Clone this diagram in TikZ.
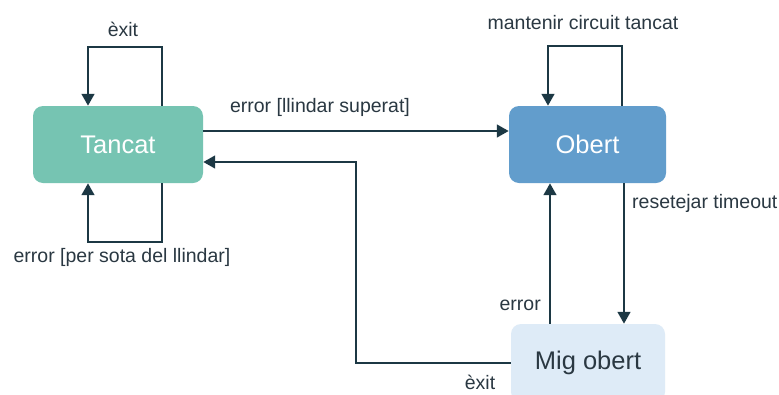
\documentclass[tikz,border=0pt]{standalone}
\usepackage{fontspec}
\setmainfont{Liberation Sans}
\usetikzlibrary{arrows.meta,calc}
\definecolor{lineC}{RGB}{28,56,68}
\definecolor{txtC}{RGB}{42,56,66}
\definecolor{tancatC}{RGB}{118,196,178}
\definecolor{obertC}{RGB}{98,157,204}
\definecolor{migC}{RGB}{222,235,247}
\tikzset{
  state/.style={rounded corners=10pt, minimum height=77pt, inner sep=0pt,
    font=\fontsize{25.5}{30}\selectfont},
  arr/.style={draw=lineC, line width=2.8pt, -{Triangle[length=12pt,width=12.5pt]}},
  lbl/.style={text=txtC, font=\fontsize{19.5}{23}\selectfont, inner sep=0pt}
}
\begin{document}
\begin{tikzpicture}[x=1pt,y=-1pt]
\useasboundingbox (0,0) rectangle (779,394);
\clip (0,0) rectangle (779,394);
\fill[white] (0,0) rectangle (779,394);
\node[state, fill=tancatC, text=white, minimum width=170pt] (Tancat) at (118,144.5) {Tancat};
\node[state, fill=obertC, text=white, minimum width=157pt] (Obert) at (587.5,144.5) {Obert};
\node[state, fill=migC, text=txtC, minimum width=154pt, minimum height=78pt] (Mig) at (588,363) {Mig obert};
% Tancat loops
\coordinate (tl) at (88,47);
\coordinate (tr) at (162,47);
\draw[arr] (Tancat.north -| tr) -- (tr) -- (tl) -- (Tancat.north -| tl);
\coordinate (bl) at (88,242);
\coordinate (br) at (162,242);
\draw[arr] (Tancat.south -| br) -- (br) -- (bl) -- (Tancat.south -| bl);
% Obert loop
\coordinate (ol) at (548,46);
\coordinate (or) at (622,46);
\draw[arr] (Obert.north -| or) -- (or) -- (ol) -- (Obert.north -| ol);
% Tancat -> Obert
\coordinate (h1) at (0,131);
\draw[arr] (Tancat.east |- h1) -- (Obert.west |- h1);
% Mig -> Tancat
\coordinate (rc) at (356,162);
\draw[arr] (Mig.west) -| (rc) -- (Tancat.east |- rc);
% Obert <-> Mig
\coordinate (v1) at (624,0);
\coordinate (v2) at (550,0);
\draw[arr] (Obert.south -| v1) -- (Mig.north -| v1);
\draw[arr] (Mig.north -| v2) -- (Obert.south -| v2);
% labels
\node[lbl] (l1) at (123,29) {èxit};
\node[lbl] (l2) at (122,257) {error [per sota del llindar]};
\node[lbl] (l3) at (320,107) {error [llindar superat]};
\node[lbl] (l4) at (583,23) {mantenir circuit tancat};
\node[lbl, anchor=west] (l5) at (632,203) {resetejar timeout};
\node[lbl, anchor=east] (l6) at (541,305) {error};
\node[lbl] (l7) at (480,382.5) {èxit};
\end{tikzpicture}
\end{document}
